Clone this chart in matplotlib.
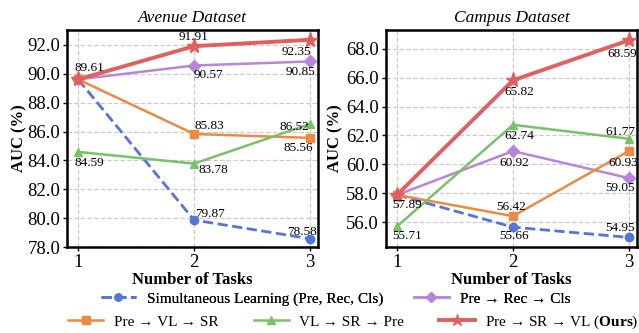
import matplotlib
matplotlib.use("Agg")
import matplotlib.pyplot as plt
from matplotlib.lines import Line2D
from matplotlib.ticker import FormatStrFormatter

plt.rcParams['font.family'] = ['Liberation Serif', 'DejaVu Serif']
plt.rcParams['mathtext.fontset'] = 'custom'
plt.rcParams['mathtext.rm'] = 'Liberation Serif'
plt.rcParams['mathtext.bf'] = 'Liberation Serif:bold'

tasks = [1, 2, 3]
labels = ["Simultaneous Learning (Pre, Rec, Cls)",
          "Pre \u2192 Rec \u2192 Cls",
          "Pre \u2192 VL \u2192 SR",
          "VL \u2192 SR \u2192 Pre",
          "Pre \u2192 SR \u2192 VL ($\\mathbf{Ours}$)"]

avenue_sim = [89.61, 79.87, 78.58]
avenue_rec = [89.61, 90.57, 90.85]
avenue_vlsr = [89.61, 85.83, 85.56]
avenue_vlpre = [84.59, 83.78, 86.52]
avenue_ours = [89.61, 91.91, 92.35]

campus_sim = [57.89, 55.66, 54.95]
campus_rec = [57.89, 60.92, 59.05]
campus_vlsr = [57.89, 56.42, 60.93]
campus_vlpre = [55.71, 62.74, 61.77]
campus_ours = [57.89, 65.82, 68.59]

avenue_ticks = [78, 80, 82, 84, 86, 88, 90, 92]
campus_ticks = [56, 58, 60, 62, 64, 66, 68]

colors = ['#5474d8', '#b985db', '#ec8b40', '#79c267', '#e0605e']
markers = ['o', 'D', 's', '^', '*']
styles = ['--', '-', '-', '-', '-']
widths = [2.0, 1.8, 1.8, 1.8, 2.8]
msizes = [6, 6, 6, 6, 11]

# value label offsets in pixels (dx, dy, ha), None = no label
avenue_offs = [
    [None, (1, 6, 'left'), (7, 7, 'right')],
    [None, (0, -9, 'left'), (5, -11, 'right')],
    [None, (0, 8, 'left'), (3, -10, 'right')],
    [(-4, -11, 'left'), (4, -6, 'left'), (-1, -3, 'right')],
    [(-4, 11, 'left'), (-1, 9, 'center'), (1, -12, 'right')],
]
campus_offs = [
    [None, (1, -9, 'center'), (6, 9, 'right')],
    [None, (1, -12, 'center'), (6, -10, 'right')],
    [None, (-2, 9, 'center'), (9, -12, 'right')],
    [(-5, -10, 'left'), (6, -11, 'center'), (6, 7, 'right')],
    [(-5, -10, 'left'), (6, -12, 'center'), (-7, -14, 'center')],
]

fig, axes = plt.subplots(1, 2, figsize=(6.39, 3.33), dpi=100)
fig.subplots_adjust(left=0.105, right=0.997, top=0.91, bottom=0.258, wspace=0.27)

datasets = [
    ("Avenue Dataset", [avenue_sim, avenue_rec, avenue_vlsr, avenue_vlpre, avenue_ours],
     (78.0, 93.03), avenue_ticks, avenue_offs, 0),
    ("Campus Dataset", [campus_sim, campus_rec, campus_vlsr, campus_vlpre, campus_ours],
     (54.28, 69.3), campus_ticks, campus_offs, 2),
]

for ax, (title, series, ylim, yticks, offs, ypad) in zip(axes, datasets):
    for i, ys in enumerate(series):
        ax.plot(tasks, ys, linestyle=styles[i], color=colors[i], marker=markers[i],
                lw=widths[i], ms=msizes[i], zorder=3 + (i == 4))
        for j, y in enumerate(ys):
            if offs[i][j] is None:
                continue
            dx, dy, ha = offs[i][j]
            ax.annotate(f"{y:.2f}", (tasks[j], y), xytext=(dx, dy),
                        textcoords='offset pixels', ha=ha, va='center',
                        fontsize=9.5, zorder=6)
    ax.set_title(title, fontsize=12.5, style='italic', pad=6)
    ax.set_xlim(0.905, 3.07)
    ax.set_ylim(*ylim)
    ax.set_yticks(yticks)
    ax.yaxis.set_major_formatter(FormatStrFormatter('%.1f'))
    ax.set_xticks(tasks)
    ax.tick_params(labelsize=13.5, length=3, width=1, pad=2)
    ax.grid(True, linestyle='--', color='#cccccc', lw=0.9)
    ax.set_axisbelow(True)
    for s in ax.spines.values():
        s.set_linewidth(1.8)
    ax.set_xlabel("Number of Tasks", fontsize=12, fontweight='bold', labelpad=0.5)
    ax.set_ylabel("AUC (%)", fontsize=12, fontweight='bold', labelpad=ypad)

handles = [Line2D([], [], linestyle=styles[i], color=colors[i], marker=markers[i],
                  lw=widths[i], ms=msizes[i] * 0.85) for i in range(5)]

leg1 = fig.legend([handles[0], handles[1]], [labels[0], labels[1]], ncol=2,
                  loc='center', bbox_to_anchor=(0.525, 0.102), frameon=False,
                  fontsize=11, handlelength=2.3, columnspacing=2.0, handletextpad=0.7)
fig.add_artist(leg1)
fig.legend([handles[2], handles[3], handles[4]], [labels[2], labels[3], labels[4]], ncol=3,
           loc='center', bbox_to_anchor=(0.553, 0.032), frameon=False,
           fontsize=11, handlelength=2.3, columnspacing=2.3, handletextpad=0.7)

fig.savefig("out.png", dpi=100)
